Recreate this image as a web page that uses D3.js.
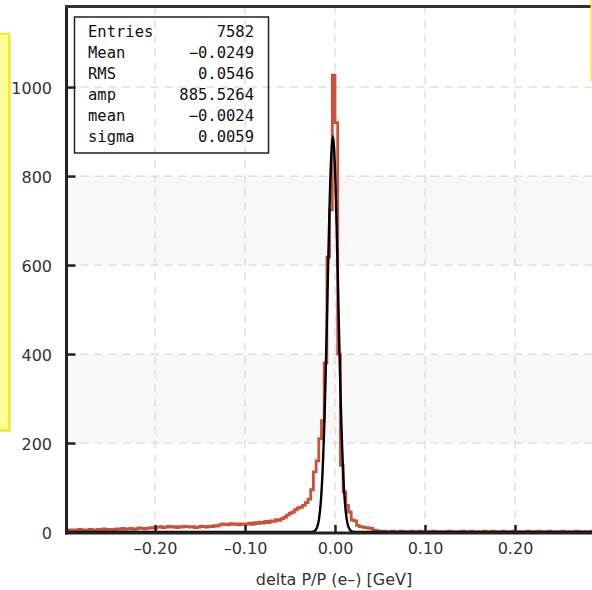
<!DOCTYPE html>
<html><head><meta charset="utf-8">
<script src="https://cdn.jsdelivr.net/npm/d3@7"></script>
<style>body{margin:0;background:#fff;} svg{display:block;}</style>
</head><body>
<svg id="chart" width="592" height="590"></svg>
<script>
// ---- data ----
const binStart = -0.3;
const binWidth = 0.003;
const counts = [
  4,5,3,5,4,6,5,4,5,6,
  4,5,6,5,7,5,6,6,5,7,
  6,8,6,7,8,6,7,9,8,7,
  8,9,10,9,11,12,10,11,13,11,
  12,10,12,11,13,12,11,12,10,11,
  13,12,11,13,12,14,13,16,18,17,
  16,19,17,18,16,18,17,18,20,17,
  21,19,22,20,24,21,25,24,28,26,
  30,33,38,42,45,50,54,56,60,66,
  74,95,135,160,210,250,380,618,724,1027,
  920,400,150,90,60,45,27,25,15,12,
  11,10,9,8,4,3,2,1,2,1,
  1,2,0,1,2,1,1,0,2,1,
  1,2,1,0,1,1,2,1,0,1,
  1,1,2,1,1,0,1,2,1,1,
  2,1,0,1,1,2,1,1,2,1,
  0,1,2,1,1,1,2,1,0,1,
  1,2,1,1,0,2,1,1,1,2,
  1,0,1,1,2,1,1,1,0,2,
  1,1,1,0,1,2,1,1,0,1
];
const xTicks = [-0.2, -0.1, 0, 0.1, 0.2];
const xTickLabels = ["–0.20", "–0.10", "0.00", "0.10", "0.20"];
const yTicks = [0, 200, 400, 600, 800, 1000];
const yTickLabels = ["0", "200", "400", "600", "800", "1000"];
const statNames = ["Entries", "Mean", "RMS", "amp", "mean", "sigma"];
const statValues = ["7582", "−0.0249", "0.0546", "885.5264", "−0.0024", "0.0059"];
const fitAmp = 885.5264, fitMean = -0.0024, fitSigma = 0.0059;
const bandRanges = [[200, 400], [600, 800]];
const xLabel = "delta P/P (e–) [GeV]";

// ---- layout ----
const svg = d3.select("#chart");
const x = d3.scaleLinear().domain([-0.3, 0.3]).range([65, 605]);
const y = d3.scaleLinear().domain([0, 1180]).range([532, 7]);
const plotL = 66.5, plotR = 605, plotT = 6.5, plotB = 533;

svg.append("defs").append("clipPath").attr("id", "clip")
  .append("rect").attr("x", plotL).attr("y", plotT).attr("width", plotR - plotL).attr("height", plotB - plotT);

const plot = svg.append("g").attr("clip-path", "url(#clip)");

// bands
plot.selectAll("rect.band").data(bandRanges).join("rect").attr("class", "band")
  .attr("x", plotL).attr("width", plotR - plotL)
  .attr("y", d => y(d[1])).attr("height", d => y(d[0]) - y(d[1]))
  .attr("fill", "#f8f8f8");

// grid
plot.selectAll("line.vg").data(xTicks).join("line").attr("class", "vg")
  .attr("x1", d => x(d)).attr("x2", d => x(d)).attr("y1", plotT).attr("y2", plotB)
  .attr("stroke", "#d8d8d8").attr("stroke-width", 1.2).attr("stroke-dasharray", "8,6");
plot.selectAll("line.hg").data(yTicks.filter(d => d > 0)).join("line").attr("class", "hg")
  .attr("y1", d => y(d)).attr("y2", d => y(d)).attr("x1", plotL).attr("x2", plotR)
  .attr("stroke", "#d8d8d8").attr("stroke-width", 1.2).attr("stroke-dasharray", "8,6");

// histogram
const histPts = counts.map((c, i) => [binStart + i * binWidth, c]);
histPts.push([binStart + counts.length * binWidth, counts[counts.length - 1]]);
plot.append("path").datum(histPts)
  .attr("d", d3.line().x(d => x(d[0])).y(d => y(d[1])).curve(d3.curveStepAfter))
  .attr("fill", "none").attr("stroke", "#c9523b").attr("stroke-width", 2.8);

// fit curve
const fitXs = d3.range(-0.3, 0.3001, 0.0004);
plot.append("path").datum(fitXs)
  .attr("d", d3.line().x(d => x(d)).y(d => y(fitAmp * Math.exp(-0.5 * Math.pow((d - fitMean) / fitSigma, 2)))))
  .attr("fill", "none").attr("stroke", "#000").attr("stroke-width", 2.4);

// axes
const yAxis = d3.axisLeft(y).tickValues(yTicks).tickFormat((d, i) => yTickLabels[i])
  .tickSize(-9).tickSizeOuter(0).tickPadding(14.5);
const gy = svg.append("g").attr("transform", `translate(${plotL},0)`).call(yAxis);
const xAxis = d3.axisBottom(x).tickValues(xTicks).tickFormat((d, i) => xTickLabels[i])
  .tickSize(-8).tickSizeOuter(0).tickPadding(9.5);
const gx = svg.append("g").attr("transform", `translate(0,${plotB})`).call(xAxis);
[gx, gy].forEach(g => {
  g.select(".domain").remove();
  g.selectAll(".tick line").attr("stroke", "#222").attr("stroke-width", 2.5);
  g.selectAll("text").attr("fill", "#333").style("font-family", "DejaVu Sans, sans-serif").style("font-size", "16px");
});
gy.selectAll("text").attr("dy", "0.42em");

// frame lines
svg.append("line").attr("x1", plotL).attr("x2", plotL).attr("y1", plotT - 1.5).attr("y2", plotB + 1.5)
  .attr("stroke", "#222").attr("stroke-width", 3);
svg.append("line").attr("x1", plotL - 1.5).attr("x2", 600).attr("y1", plotB).attr("y2", plotB)
  .attr("stroke", "#222").attr("stroke-width", 3);
svg.append("line").attr("x1", plotL - 1.5).attr("x2", 600).attr("y1", plotT).attr("y2", plotT)
  .attr("stroke", "#333").attr("stroke-width", 3);

// x label
svg.append("text").attr("x", 334).attr("y", 585).attr("text-anchor", "middle")
  .attr("fill", "#333").style("font-family", "DejaVu Sans, sans-serif").style("font-size", "16px")
  .text(xLabel);

// stats box
const sb = svg.append("g");
sb.append("rect").attr("x", 74.5).attr("y", 17).attr("width", 194).attr("height", 136)
  .attr("fill", "none").attr("stroke", "#222").attr("stroke-width", 1.5);
statNames.forEach((n, i) => {
  sb.append("text").attr("x", 88).attr("y", 37 + i * 21).text(n)
    .attr("fill", "#111").style("font-family", "DejaVu Sans Mono, monospace").style("font-size", "15.5px");
  sb.append("text").attr("x", 254).attr("y", 37 + i * 21).attr("text-anchor", "end").text(statValues[i])
    .attr("fill", "#111").style("font-family", "DejaVu Sans Mono, monospace").style("font-size", "15.5px");
});

// yellow note boxes (partially off-canvas)
svg.append("rect").attr("x", -8).attr("y", 36).attr("width", 19).attr("height", 396).attr("fill", "#bbb").attr("opacity", 0.5);
svg.append("rect").attr("x", -10).attr("y", 34).attr("width", 19).attr("height", 396)
  .attr("fill", "#ffff99").attr("stroke", "#ffee00").attr("stroke-width", 2);
svg.append("rect").attr("x", 591.5).attr("y", -10).attr("width", 40).attr("height", 90)
  .attr("fill", "#ffff99").attr("stroke", "#ffee00").attr("stroke-width", 2);
</script>
</body></html>
